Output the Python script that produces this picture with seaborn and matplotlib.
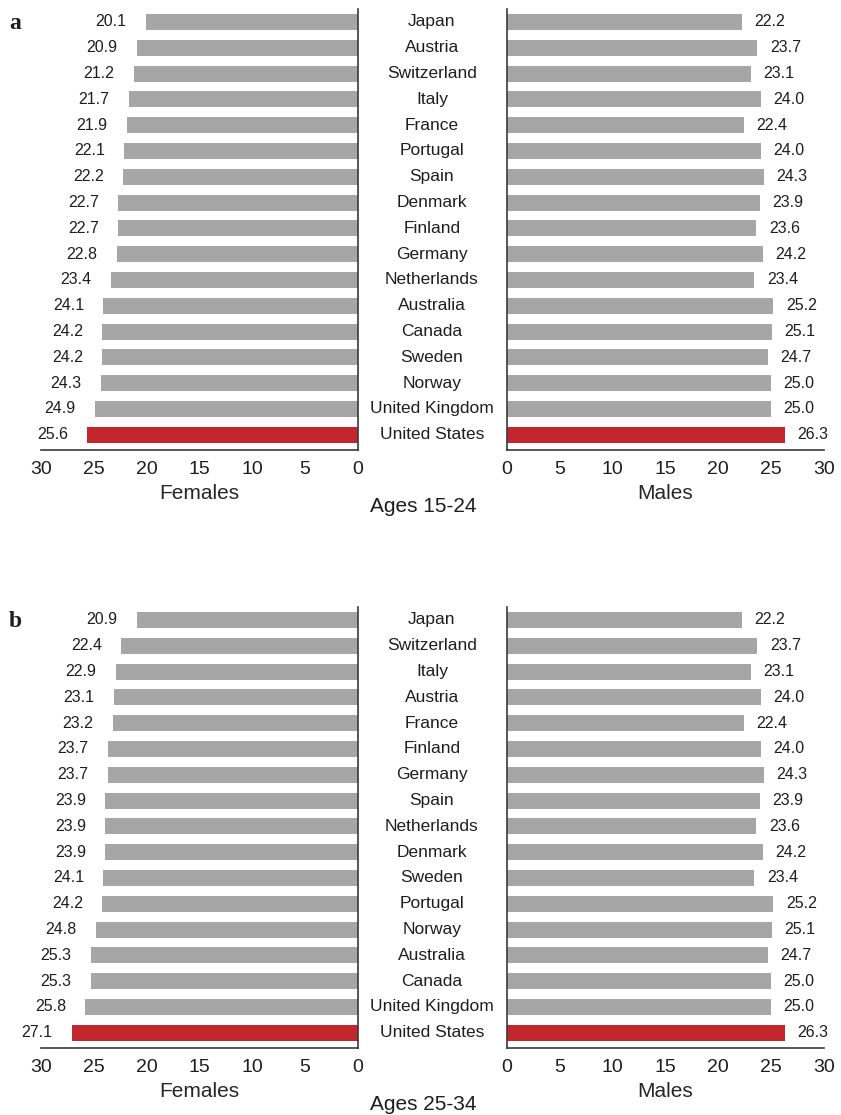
import matplotlib
matplotlib.use("Agg")
import matplotlib.pyplot as plt
import matplotlib.transforms as mtransforms
import seaborn as sns

# data
countries_a = ['Japan', 'Austria', 'Switzerland', 'Italy', 'France', 'Portugal', 'Spain',
               'Denmark', 'Finland', 'Germany', 'Netherlands', 'Australia', 'Canada',
               'Sweden', 'Norway', 'United Kingdom', 'United States']
females_a = [20.1, 20.9, 21.2, 21.7, 21.9, 22.1, 22.2, 22.7, 22.7, 22.8, 23.4, 24.1,
             24.2, 24.2, 24.3, 24.9, 25.6]
males_a = [22.2, 23.7, 23.1, 24.0, 22.4, 24.0, 24.3, 23.9, 23.6, 24.2, 23.4, 25.2,
           25.1, 24.7, 25.0, 25.0, 26.3]

countries_b = ['Japan', 'Switzerland', 'Italy', 'Austria', 'France', 'Finland', 'Germany',
               'Spain', 'Netherlands', 'Denmark', 'Sweden', 'Portugal', 'Norway',
               'Australia', 'Canada', 'United Kingdom', 'United States']
females_b = [20.9, 22.4, 22.9, 23.1, 23.2, 23.7, 23.7, 23.9, 23.9, 23.9, 24.1, 24.2,
             24.8, 25.3, 25.3, 25.8, 27.1]
males_b = [22.2, 23.7, 23.1, 24.0, 22.4, 24.0, 24.3, 23.9, 23.6, 24.2, 23.4, 25.2,
           25.1, 24.7, 25.0, 25.0, 26.3]

age_groups = ['Ages 15-24', 'Ages 25-34']
panel_letters = ['a', 'b']
x_ticks = [0, 5, 10, 15, 20, 25, 30]

GREY = '#a6a6a6'
RED = '#c1272d'
SPINE = '#3a3a3a'
TEXT = '#1e1e1e'

sns.set_style('white')
plt.rcParams['font.family'] = ['Liberation Sans', 'DejaVu Sans']
plt.rcParams['text.color'] = TEXT
plt.rcParams['xtick.color'] = SPINE
plt.rcParams['xtick.labelcolor'] = TEXT

W, H = 841, 1115
fig = plt.figure(figsize=(W / 100, H / 100), dpi=100)


def px_axes(x0, x1, y0, y1):
    return fig.add_axes([x0 / W, 1 - y1 / H, (x1 - x0) / W, (y1 - y0) / H])


def draw_side(ax, countries, values, female):
    palette = {c: (RED if c == 'United States' else GREY) for c in countries}
    sns.barplot(x=values, y=countries, hue=countries, palette=palette, legend=False,
                orient='h', width=0.62, saturation=1, linewidth=0, ax=ax)
    n = len(countries)
    ax.set_ylim(n - 0.41, -0.5)
    if female:
        ax.set_xlim(30, 0)
    else:
        ax.set_xlim(0, 30)
    ax.set_xticks(x_ticks)
    ax.set_yticks([])
    ax.set_ylabel('')
    ax.tick_params(axis='x', direction='out', length=4, width=1.2, pad=4, labelsize=14)
    for side in ['top', 'left', 'right', 'bottom']:
        ax.spines[side].set_visible(False)
    ax.spines['bottom'].set_visible(True)
    ax.spines['right' if female else 'left'].set_visible(True)
    for s in ax.spines.values():
        s.set_color(SPINE)
        s.set_linewidth(1.2)
    for i, v in enumerate(values):
        if female:
            ax.annotate(f'{v:.1f}', xy=(v, i), xytext=(-14, 0), textcoords='offset points',
                        ha='right', va='center', fontsize=11.5)
        else:
            ax.annotate(f'{v:.1f}', xy=(v, i), xytext=(9, 0), textcoords='offset points',
                        ha='left', va='center', fontsize=11.5)
    ax.set_xlabel('Females' if female else 'Males', fontsize=15, labelpad=4)


panels = [(countries_a, females_a, males_a, 9, 450),
          (countries_b, females_b, males_b, 607, 1048)]

for k, (countries, fem, mal, top, bottom) in enumerate(panels):
    ax_f = px_axes(41, 358, top, bottom)
    ax_m = px_axes(507, 824, top, bottom)
    draw_side(ax_f, countries, fem, True)
    draw_side(ax_m, countries, mal, False)

    # country names in the gap between the two halves
    trans = mtransforms.blended_transform_factory(fig.transFigure, ax_f.transData)
    for i, c in enumerate(countries):
        fig.text(432 / W, i, c, transform=trans, ha='center', va='center', fontsize=12.5)

    fig.text(423 / W, 1 - (bottom + 57) / H, age_groups[k], ha='center', va='center',
             fontsize=15)
    fig.text(9 / W, 1 - (top + 20) / H, panel_letters[k], ha='left', va='baseline',
             fontsize=17, fontweight='bold', family=['Liberation Serif', 'DejaVu Serif'])

fig.savefig('out.png', dpi=100)
